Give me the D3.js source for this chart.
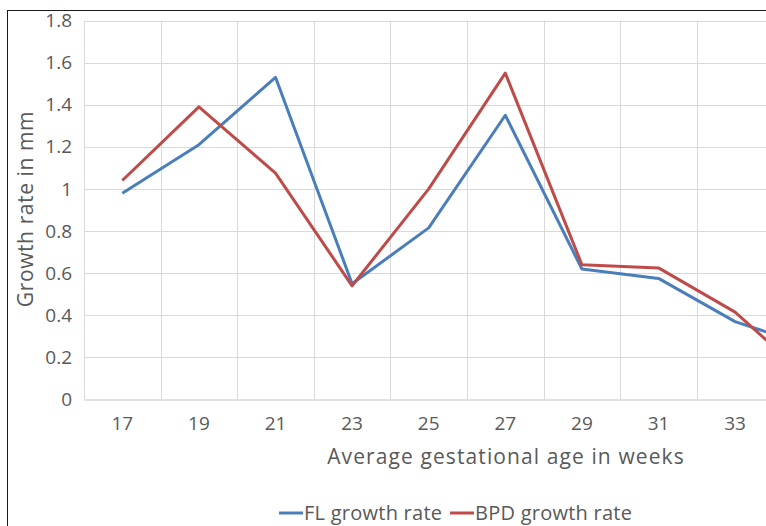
<!DOCTYPE html>
<html>
<head>
<meta charset="utf-8">
<script src="https://cdn.jsdelivr.net/npm/d3@7/dist/d3.min.js"></script>
<style>
  html, body { margin: 0; padding: 0; background: #fff; }
  svg { display: block; font-family: "Open Sans", sans-serif; }
</style>
</head>
<body>
<svg id="chart" width="766" height="526"></svg>
<script>
// ---- data ----
const weeks = ["17", "19", "21", "23", "25", "27", "29", "31", "33", "35"];
const flGrowth  = [0.98, 1.21, 1.53, 0.55, 0.815, 1.35, 0.62, 0.575, 0.37, 0.25];
const bpdGrowth = [1.04, 1.39, 1.075, 0.54, 1.0, 1.55, 0.64, 0.625, 0.415, 0.09];
const yTicks = [0, 0.2, 0.4, 0.6, 0.8, 1, 1.2, 1.4, 1.6, 1.8];
const seriesNames = ["FL growth rate", "BPD growth rate"];
const seriesColors = ["#4A7EBB", "#BE4B48"];

const W = 766;
const svg = d3.select("#chart");
const plotLeft = 84, band = 76.6;
const plotTop = 20.5, plotBottom = 399.5;

const x = d3.scaleBand().domain(weeks).range([plotLeft, plotLeft + band * weeks.length]).paddingInner(0).paddingOuter(0);
const y = d3.scaleLinear().domain([0, 1.8]).range([plotBottom, plotTop]);

// chart border (top & left visible)
svg.append("rect").attr("x", 7.5).attr("y", 10.5).attr("width", 1000).attr("height", 1000)
  .attr("fill", "#fff").attr("stroke", "#1a1a1a").attr("stroke-width", 1);

const grid = svg.append("g");
grid.selectAll("line.h").data(yTicks.slice(1)).join("line")
  .attr("x1", plotLeft).attr("x2", plotLeft + band * weeks.length)
  .attr("y1", d => Math.round(y(d)) + 0.5).attr("y2", d => Math.round(y(d)) + 0.5)
  .attr("stroke", "#d9d9d9").attr("stroke-width", 1);
grid.selectAll("line.v").data(weeks).join("line")
  .attr("x1", d => Math.round(x(d)) + 0.5).attr("x2", d => Math.round(x(d)) + 0.5)
  .attr("y1", plotTop).attr("y2", plotBottom)
  .attr("stroke", "#d9d9d9").attr("stroke-width", 1);

// x axis (labels only for categories whose centre lies inside the picture)
const visibleWeeks = weeks.filter(w => x(w) + x.bandwidth() / 2 + 12 < W);
const xAxis = svg.append("g").attr("transform", `translate(0,${plotBottom})`)
  .call(d3.axisBottom(x).tickValues(visibleWeeks).tickSize(0).tickPadding(17));
xAxis.select(".domain").attr("stroke", "#d9d9d9").attr("stroke-width", 1.5);
xAxis.selectAll("text").attr("fill", "#595959").attr("font-size", 19).attr("font-family", "Open Sans");

// y axis
const yAxis = svg.append("g").attr("transform", `translate(${plotLeft},0)`)
  .call(d3.axisLeft(y).tickValues(yTicks).tickSize(0).tickPadding(12).tickFormat(d3.format("~g")));
yAxis.select(".domain").remove();
yAxis.selectAll("text").attr("fill", "#595959").attr("font-size", 19).attr("font-family", "Open Sans");

// lines
const line = d3.line().x((d, i) => x(weeks[i]) + x.bandwidth() / 2).y(d => y(d));
[flGrowth, bpdGrowth].forEach((s, k) => {
  svg.append("path").datum(s).attr("d", line)
    .attr("fill", "none").attr("stroke", seriesColors[k]).attr("stroke-width", 3)
    .attr("stroke-linejoin", "round");
});

// axis titles
svg.append("text").attr("x", 506).attr("y", 464).attr("text-anchor", "middle")
  .attr("fill", "#595959").attr("font-size", 21).attr("letter-spacing", 1.1)
  .text("Average gestational age in weeks");
svg.append("text").attr("transform", "translate(33,209) rotate(-90)").attr("text-anchor", "middle")
  .attr("fill", "#595959").attr("font-size", 21).attr("letter-spacing", 0.6)
  .text("Growth rate in mm");

// legend
const legendX = [279, 450];
seriesNames.forEach((n, k) => {
  const g = svg.append("g").attr("transform", `translate(${legendX[k]},513)`);
  g.append("line").attr("x1", 0).attr("x2", 24).attr("y1", 0).attr("y2", 0)
    .attr("stroke", seriesColors[k]).attr("stroke-width", 3);
  g.append("text").attr("x", 25).attr("y", 7).attr("fill", "#595959")
    .attr("font-size", 20).attr("letter-spacing", 0.25).text(n);
});
</script>
</body>
</html>
